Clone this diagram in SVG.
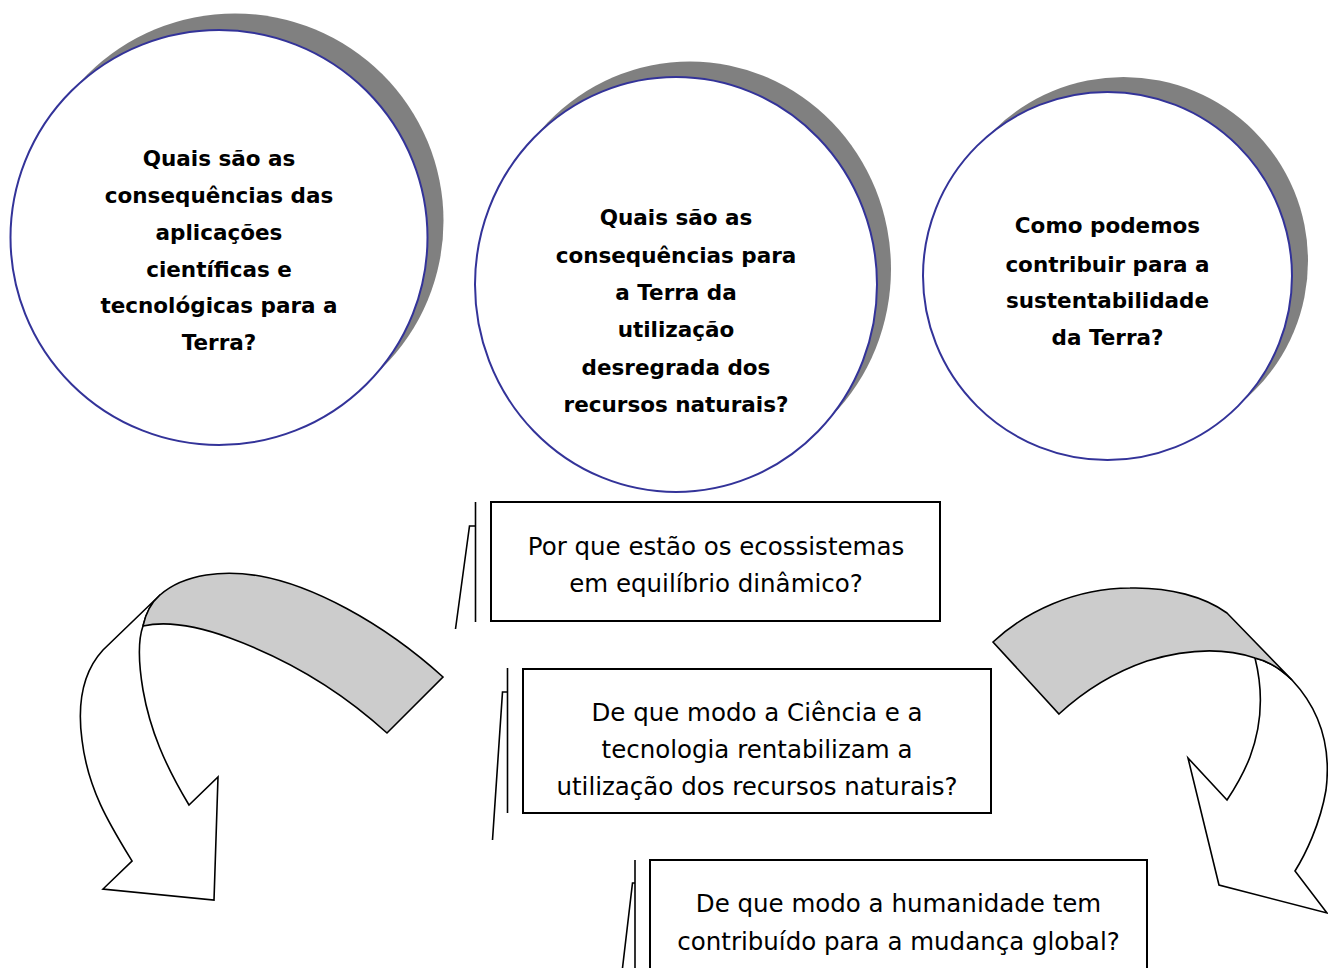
<svg xmlns="http://www.w3.org/2000/svg" width="1328" height="968" viewBox="0 0 1328 968">
<style>
.shadow{fill:#808080;stroke:none}
.circ{fill:#ffffff;stroke:#333399;stroke-width:2}
.ctext{font-family:"Comic Sans MS","DejaVu Sans",sans-serif;font-weight:bold;font-size:21.5px;fill:#000;text-anchor:middle}
.box{fill:#ffffff;stroke:#000;stroke-width:2}
.btext{font-family:"Comic Sans MS","DejaVu Sans",sans-serif;font-size:24.5px;fill:#000;text-anchor:middle}
.ln{fill:none;stroke:#000;stroke-width:1.6}
.arrow-band{fill:#cccccc;stroke:#000;stroke-width:1.6;stroke-linejoin:miter}
.arrow-body{fill:#ffffff;stroke:#000;stroke-width:1.6;stroke-linejoin:miter}
</style>
<rect width="1328" height="968" fill="#ffffff"/>

<g id="node-circle1">
<ellipse class="shadow" cx="235" cy="221" rx="208.5" ry="207.5"/>
<ellipse class="circ" cx="219" cy="237.5" rx="208.5" ry="207.5"/>
<text class="ctext" x="219" y="166">Quais são as</text>
<text class="ctext" x="219" y="203">consequências das</text>
<text class="ctext" x="219" y="240">aplicações</text>
<text class="ctext" x="219" y="277">científicas e</text>
<text class="ctext" x="219" y="313">tecnológicas para a</text>
<text class="ctext" x="219" y="350">Terra?</text>
</g>

<g id="node-circle2">
<ellipse class="shadow" cx="690" cy="269" rx="201" ry="207.5"/>
<ellipse class="circ" cx="676" cy="284.5" rx="201" ry="207.5"/>
<text class="ctext" x="676" y="225">Quais são as</text>
<text class="ctext" x="676" y="263">consequências para</text>
<text class="ctext" x="676" y="300">a Terra da</text>
<text class="ctext" x="676" y="337">utilização</text>
<text class="ctext" x="676" y="375">desregrada dos</text>
<text class="ctext" x="676" y="412">recursos naturais?</text>
</g>

<g id="node-circle3">
<ellipse class="shadow" cx="1123.5" cy="261" rx="184.5" ry="184"/>
<ellipse class="circ" cx="1107.5" cy="276" rx="184.5" ry="184"/>
<text class="ctext" x="1107.5" y="233">Como podemos</text>
<text class="ctext" x="1107.5" y="272">contribuir para a</text>
<text class="ctext" x="1107.5" y="308">sustentabilidade</text>
<text class="ctext" x="1107.5" y="345">da Terra?</text>
</g>

<g id="node-box1">
<polyline class="ln" points="475.5,502 475.5,622"/>
<polyline class="ln" points="475.5,526 469.5,526 455.5,629"/>
<rect class="box" x="491" y="502" width="449" height="119"/>
<text class="btext" x="716" y="555">Por que estão os ecossistemas</text>
<text class="btext" x="716" y="592">em equilíbrio dinâmico?</text>
</g>

<g id="node-box2">
<polyline class="ln" points="507.5,668 507.5,813"/>
<polyline class="ln" points="507.5,692 502.5,692 492.5,840"/>
<rect class="box" x="523" y="669" width="468" height="144"/>
<text class="btext" x="757" y="721">De que modo a Ciência e a</text>
<text class="btext" x="757" y="758">tecnologia rentabilizam a</text>
<text class="btext" x="757" y="795">utilização dos recursos naturais?</text>
</g>

<g id="node-box3">
<polyline class="ln" points="635,860 635,968"/>
<polyline class="ln" points="635,883 632.5,883 622.5,968"/>
<rect class="box" x="650" y="860" width="497" height="112"/>
<text class="btext" x="898.5" y="912">De que modo a humanidade tem</text>
<text class="btext" x="898.5" y="950">contribuído para a mudança global?</text>
</g>

<g id="connectors">
<g id="arrow-left">
<path class="arrow-body" d="M160,595 L103,650 C80,675 78,710 82,740 C88,790 110,825 132,861 L103,889 L214,900 L218,777 L189,805 C165,765 150,730 143,690 C138,660 138,640 143,626 C146,612 152,602 160,595 Z"/>
<path class="arrow-band" d="M160,595 C185,573 225,570 260,576 C310,585 380,620 443,677 L387,733 C340,690 290,660 230,638 C200,627 170,620 143,626 C146,612 152,602 160,595 Z"/>
</g>
<g id="arrow-right">
<path class="arrow-body" d="M1255,658 C1263,690 1262,725 1250,757 C1243,775 1235,788 1227,800 L1188,758 L1219,885 L1327,913 L1295,871 C1305,855 1320,825 1326,790 C1331,750 1322,712 1292,680 C1280,668 1268,661 1255,658 Z"/>
<path class="arrow-band" d="M993,642 C1025,612 1075,588 1130,588 C1170,587 1205,597 1227,613 L1292,680 C1280,668 1268,661 1255,658 C1225,648 1190,648 1147,661 C1115,672 1085,690 1059,714 Z"/>
</g>
</g>
</svg>
